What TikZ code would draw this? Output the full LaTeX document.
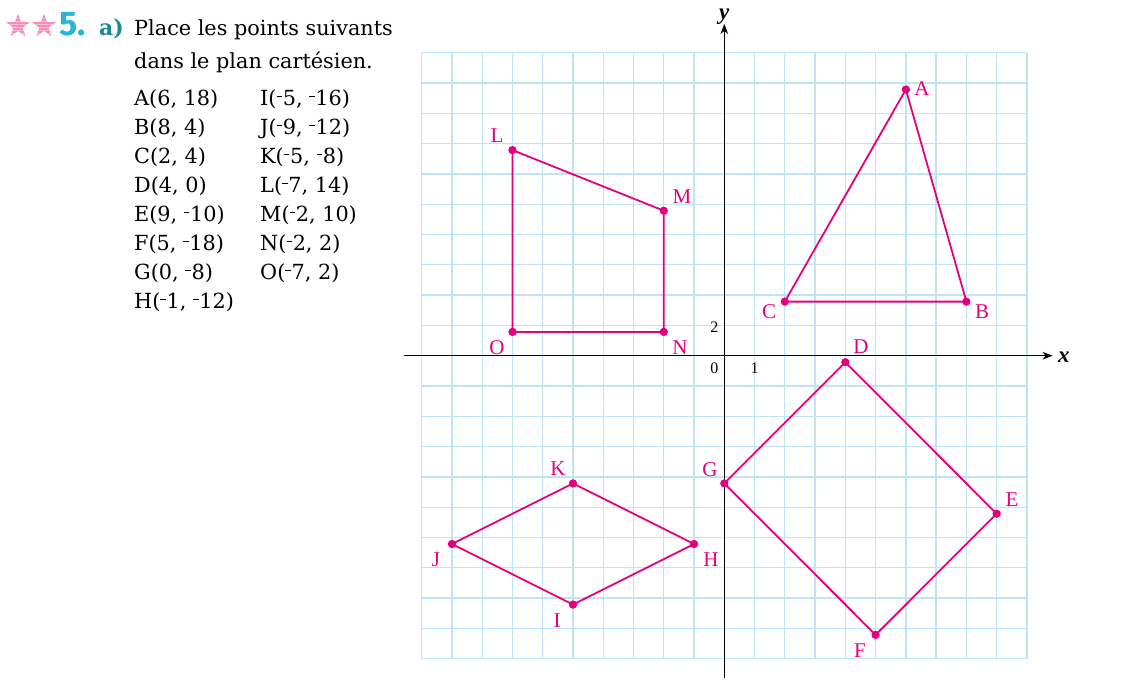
\documentclass[tikz,border=0pt]{standalone}
\usepackage{fontspec}
\usetikzlibrary{shapes.geometric,arrows.meta}
\newfontfamily\txtfont{DejaVu Serif}
\newfontfamily\numfont{Fira Sans}
\newfontfamily\labfont{Liberation Serif}
\definecolor{mag}{RGB}{229,0,125}
\definecolor{gridblue}{RGB}{190,228,246}
\definecolor{cyannum}{RGB}{41,182,214}
\definecolor{tealq}{RGB}{22,138,150}
\definecolor{starpink}{RGB}{243,140,185}
\newcommand\mn{\rule[0.4em]{0.26em}{0.055em}\kern0.04em}
\tikzset{
  pt/.style={circle,fill=mag,inner sep=0pt,minimum size=8pt},
  lab/.style={text=mag,font=\labfont\fontsize{21}{21}\selectfont,inner sep=0pt},
  seg/.style={draw=mag,line width=1.8pt},
  txt/.style={anchor=base west,inner sep=0pt,font=\txtfont\fontsize{20.8}{21}\selectfont},
  axnum/.style={inner sep=0pt,font=\labfont\fontsize{16}{16}\selectfont},
  axlab/.style={inner sep=0pt,font=\labfont\bfseries\itshape\fontsize{23}{23}\selectfont},
  starbox/.style={star,star points=5,star point ratio=2.5,fill=starpink,minimum size=25pt,inner sep=0pt,
    path picture={\foreach \k in {-9,-6,...,12}{\draw[white,opacity=0.45,line width=0.9pt]
      ([yshift=\k pt]path picture bounding box.west) -- ([yshift=\k pt]path picture bounding box.east);}}}
}
\begin{document}
\begin{tikzpicture}[x=1pt,y=-1pt]
\useasboundingbox (0,0) rectangle (1130,689);
% title
\node[starbox] (s1) at (18,26) {};
\node[starbox] (s2) at (44,26) {};
\node[anchor=base west,inner sep=0pt,text=cyannum,font=\numfont\bfseries\fontsize{34}{34}\selectfont] (num) at (59,35) {5.};
\node[anchor=base west,inner sep=0pt,text=tealq,font=\txtfont\bfseries\fontsize{22}{22}\selectfont] (qa) at (99,35) {a)};
\node[txt] (t1) at (134,35) {Place les points suivants};
\node[txt] (t2) at (134,68) {dans le plan cartésien.};
\node[txt] (cA) at (134,105) {A(6, 18)};
\node[txt] (cB) at (134,134) {B(8, 4)};
\node[txt] (cC) at (134,163) {C(2, 4)};
\node[txt] (cD) at (134,192) {D(4, 0)};
\node[txt] (cE) at (134,221) {E(9, \mn10)};
\node[txt] (cF) at (134,250) {F(5, \mn18)};
\node[txt] (cG) at (134,279) {G(0, \mn8)};
\node[txt] (cH) at (134,308) {H(\mn1, \mn12)};
\node[txt] (cI) at (260,105) {I(\mn5, \mn16)};
\node[txt] (cJ) at (260,134) {J(\mn9, \mn12)};
\node[txt] (cK) at (260,163) {K(\mn5, \mn8)};
\node[txt] (cL) at (260,192) {L(\mn7, 14)};
\node[txt] (cM) at (260,221) {M(\mn2, 10)};
\node[txt] (cN) at (260,250) {N(\mn2, 2)};
\node[txt] (cO) at (260,279) {O(\mn7, 2)};
% grid in math coordinates
\begin{scope}[shift={(724.3,355.7)},x=30.26pt,y=15.15pt]
  \draw[gridblue,line width=1.3pt] (-10,-20) grid[xstep=1,ystep=2] (10,20);
  \coordinate (xs) at (-10.6,0);
  \coordinate (xe) at (10.85,0);
  \coordinate (ys) at (0,-21.3);
  \coordinate (ye) at (0,21.9);
  \draw[line width=1.2pt,-{Stealth[length=10pt,width=7.5pt,inset=3pt]}] (xs) -- (xe);
  \draw[line width=1.2pt,-{Stealth[length=10pt,width=7.5pt,inset=3pt]}] (ys) -- (ye);
  \node[axlab] (xl) at (11.22,-0.1) {x};
  \node[axlab] (yl) at (0,22.4) {y};
  \node[axnum] (n0) at (-0.33,-0.8) {0};
  \node[axnum] (n1) at (1,-0.8) {1};
  \node[axnum] (n2) at (-0.33,1.85) {2};
  \begin{scope}[yshift=-6.5pt]
    \node[pt] (A) at (6,18) {};
    \node[pt] (B) at (8,4) {};
    \node[pt] (C) at (2,4) {};
    \node[pt] (D) at (4,0) {};
    \node[pt] (E) at (9,-10) {};
    \node[pt] (F) at (5,-18) {};
    \node[pt] (G) at (0,-8) {};
    \node[pt] (H) at (-1,-12) {};
    \node[pt] (I) at (-5,-16) {};
    \node[pt] (J) at (-9,-12) {};
    \node[pt] (K) at (-5,-8) {};
    \node[pt] (L) at (-7,14) {};
    \node[pt] (M) at (-2,10) {};
    \node[pt] (N) at (-2,2) {};
    \node[pt] (O) at (-7,2) {};
  \end{scope}
\end{scope}
\draw[seg] (A.center) -- (C.center) -- (B.center) -- cycle;
\draw[seg] (L.center) -- (M.center) -- (N.center) -- (O.center) -- cycle;
\draw[seg] (D.center) -- (E.center) -- (F.center) -- (G.center) -- cycle;
\draw[seg] (K.center) -- (H.center) -- (I.center) -- (J.center) -- cycle;
\foreach \p in {A,B,C,D,E,F,G,H,I,J,K,L,M,N,O}{\node[pt] at (\p) {};}
% labels
\node[lab] (lA) at (922,89) {A};
\node[lab] (lB) at (982,312) {B};
\node[lab] (lC) at (769,312) {C};
\node[lab] (lD) at (861,347) {D};
\node[lab] (lE) at (1012,500) {E};
\node[lab] (lF) at (860,651) {F};
\node[lab] (lG) at (710,470) {G};
\node[lab] (lH) at (711,560) {H};
\node[lab] (lI) at (557,621) {I};
\node[lab] (lJ) at (436,560) {J};
\node[lab] (lK) at (558,469) {K};
\node[lab] (lL) at (497,136) {L};
\node[lab] (lM) at (682,197) {M};
\node[lab] (lN) at (680,348) {N};
\node[lab] (lO) at (497,348) {O};
\end{tikzpicture}
\end{document}
